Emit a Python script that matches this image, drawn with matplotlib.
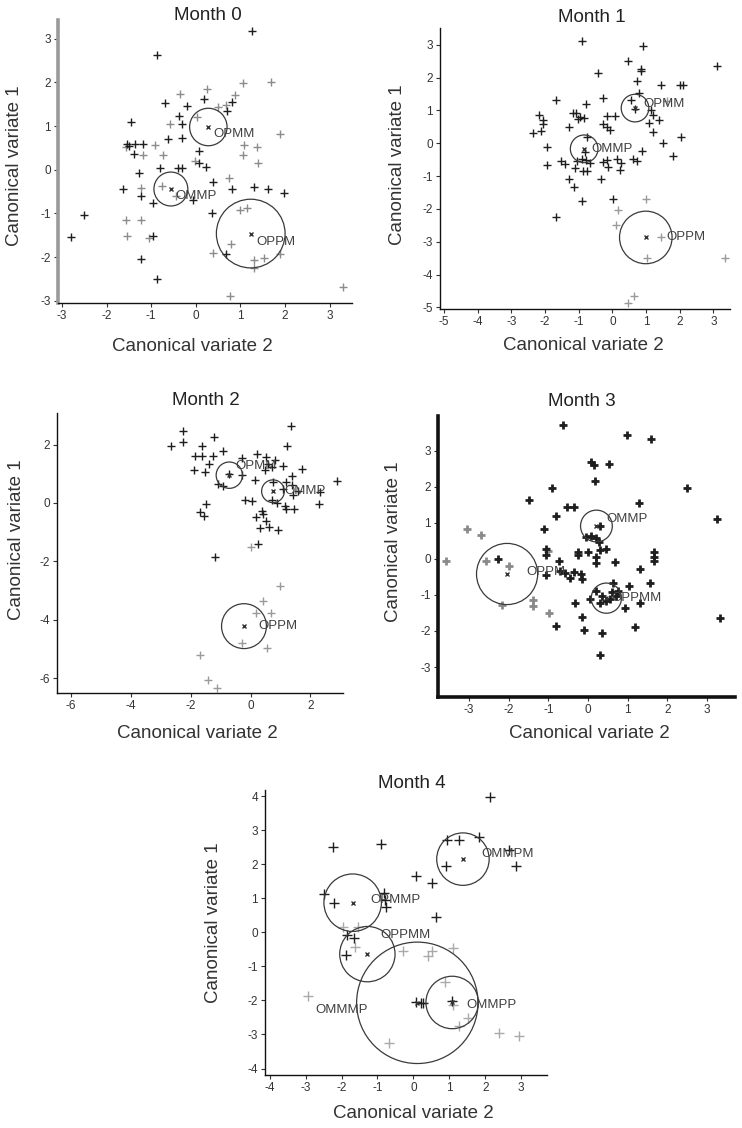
import matplotlib
matplotlib.use("Agg")
import matplotlib.pyplot as plt
from matplotlib.patches import Ellipse

plt.rcParams["font.family"] = ["Liberation Sans", "DejaVu Sans"]
plt.rcParams["axes.unicode_minus"] = False

# ---- data (canonical variate 2, canonical variate 1) ----
m0_dark = [(1.25, 3.17), (-0.87, 2.62), (0.18, 1.63), (0.80, 1.56), (0.69, 1.35), (-0.70, 1.53),
           (-0.19, 1.46), (-0.38, 1.23), (-1.46, 1.10), (-0.30, 1.04), (-0.62, 0.70), (-0.30, 0.72),
           (-1.55, 0.59), (-1.50, 0.55), (-1.36, 0.59), (-1.18, 0.59), (-1.39, 0.36), (0.08, 0.43),
           (0.06, 0.15), (0.23, 0.07), (-0.81, 0.03), (-0.39, 0.03), (-0.32, 0.03), (-1.27, -0.08),
           (0.39, -0.27), (0.82, -0.43), (1.97, -0.53), (1.30, -0.40), (1.62, -0.43), (-1.63, -0.45),
           (-1.24, -0.60), (-0.96, -0.75), (-0.06, -0.70), (0.37, -0.98), (-0.97, -1.52), (0.68, -1.93),
           (-1.24, -2.05), (-0.86, -2.49), (-2.50, -1.04), (-2.79, -1.53)]
m0_gray = [(1.06, 1.99), (1.68, 2.01), (0.25, 1.84), (-0.36, 1.73), (0.87, 1.71), (0.67, 1.48),
           (0.50, 1.43), (0.02, 1.20), (-0.57, 1.04), (1.88, 0.82), (-0.92, 0.57), (1.08, 0.57),
           (1.36, 0.53), (-1.57, 0.53), (-1.18, 0.34), (-0.73, 0.34), (1.05, 0.34), (1.40, 0.15),
           (-0.01, 0.21), (0.75, -0.18), (-1.22, -0.41), (-0.75, -0.37), (-0.45, -0.60), (0.99, -0.93),
           (1.14, -0.87), (-1.57, -1.14), (-1.24, -1.14), (-1.54, -1.52), (-1.05, -1.57), (0.78, -1.70),
           (0.38, -1.91), (1.30, -2.07), (1.52, -2.03), (1.88, -1.93), (1.30, -2.24), (0.76, -2.88),
           (3.30, -2.68)]
m0_groups = ["OPMM", "OMMP", "OPPM"]
m0_cx = [0.28, -0.56, 1.23]
m0_cy = [0.98, -0.44, -1.46]
m0_r = [0.42, 0.38, 0.77]

m1_dark = [(-0.91, 3.10), (0.90, 2.95), (0.45, 2.49), (0.84, 2.26), (0.84, 2.19), (-0.44, 2.15),
           (3.10, 2.34), (0.74, 1.91), (1.43, 1.78), (2.01, 1.78), (2.09, 1.78), (-1.68, 1.32),
           (-0.27, 1.37), (-0.79, 1.20), (0.80, 1.52), (0.54, 1.32), (0.67, 1.05), (1.13, 1.02),
           (1.21, 0.86), (1.39, 0.71), (1.09, 0.61), (1.19, 0.35), (1.49, 0.02), (2.05, 0.18),
           (1.81, -0.39), (0.87, -0.25), (0.62, -0.49), (0.74, -0.53), (0.14, -0.49), (0.24, -0.61),
           (0.21, -0.83), (-0.16, 0.83), (0.08, 0.83), (-0.29, 0.58), (-0.15, 0.50), (-0.07, 0.40),
           (-1.18, 0.92), (-1.08, 0.92), (-0.97, 0.80), (-1.02, 0.74), (-0.85, 0.76), (-1.28, 0.49),
           (-2.17, 0.86), (-2.05, 0.71), (-2.05, 0.59), (-2.12, 0.38), (-2.37, 0.30), (-1.95, -0.12),
           (-1.95, -0.66), (-1.54, -0.54), (-1.41, -0.63), (-0.75, 0.18), (-0.82, -0.27), (-0.78, -0.52),
           (-1.04, -0.55), (-0.91, -0.49), (-0.66, -0.59), (-1.11, -0.76), (-0.86, -0.86), (-0.75, -0.86),
           (-0.27, -0.56), (-0.16, -0.51), (-0.13, -0.73), (-0.35, -1.10), (-1.29, -1.10), (-1.14, -1.34),
           (-0.91, -1.75), (0.02, -1.71), (-1.69, -2.26)]
m1_gray = [(0.99, -1.69), (0.17, -2.03), (0.12, -2.49), (1.43, -2.85), (1.02, -3.51), (3.34, -3.49),
           (0.65, -4.65), (0.45, -4.88), (1.63, 1.30)]
m1_groups = ["OPMM", "OMMP", "OPPM"]
m1_cx = [0.67, -0.84, 0.99]
m1_cy = [1.07, -0.17, -2.87]
m1_r = [0.41, 0.41, 0.78]

m2_dark = [(-2.27, 2.45), (-2.67, 1.96), (-2.27, 2.08), (-1.63, 1.96), (-1.22, 2.26), (-1.86, 1.62),
           (-1.63, 1.62), (-1.25, 1.62), (-0.91, 1.77), (-1.38, 1.35), (-1.89, 1.12), (-1.52, 1.05),
           (-1.08, 0.66), (-0.91, 0.59), (-0.71, 1.00), (-0.30, 1.54), (0.20, 1.68), (0.53, 1.59),
           (0.81, 1.48), (1.07, 1.25), (1.22, 1.96), (1.34, 2.65), (1.73, 1.16), (2.89, 0.74),
           (-0.27, 0.94), (0.59, 1.35), (0.73, 1.23), (0.14, 0.80), (0.48, 1.12), (1.18, 0.71),
           (1.10, 0.48), (1.40, 0.91), (1.37, 0.62), (0.76, 0.70), (0.73, 0.10), (1.59, 0.40),
           (1.41, 0.28), (2.31, 0.36), (2.29, -0.02), (0.87, 0.00), (1.14, -0.10), (1.20, -0.20),
           (1.44, -0.20), (-0.19, 0.10), (0.04, 0.05), (0.37, -0.26), (0.40, -0.37), (0.18, -0.48),
           (0.51, -0.63), (0.62, -0.82), (0.31, -0.86), (0.92, -0.94), (-1.49, -0.02), (-1.69, -0.32),
           (-1.56, -0.46), (0.26, -1.39), (-1.18, -1.85)]
m2_gray = [(0.00, -1.51), (0.98, -2.85), (0.42, -3.37), (0.18, -3.77), (0.67, -3.77), (-0.28, -4.79),
           (0.56, -4.97), (-1.69, -5.22), (-1.41, -6.07), (-1.13, -6.34)]
m2_groups = ["OPMM", "OMMP", "OPPM"]
m2_cx = [-0.71, 0.75, -0.22]
m2_cy = [0.95, 0.40, -4.22]
m2_r = [0.44, 0.38, 0.75]

m3_dark = [(-0.63, 3.71), (0.97, 3.42), (1.58, 3.33), (0.08, 2.69), (0.16, 2.60), (0.53, 2.62),
           (0.18, 2.17), (-0.90, 1.96), (2.49, 1.96), (-1.50, 1.62), (1.28, 1.54), (-0.54, 1.43),
           (-0.35, 1.43), (-0.82, 1.20), (3.25, 1.10), (-1.12, 0.82), (0.29, 0.91), (-0.06, 0.60),
           (0.08, 0.64), (0.19, 0.57), (0.28, 0.48), (-1.05, 0.27), (-1.05, 0.11), (-0.25, 0.20),
           (-0.25, 0.11), (0.00, 0.20), (0.19, 0.06), (0.29, 0.24), (0.46, 0.27), (-0.73, -0.07),
           (0.21, -0.12), (0.69, -0.10), (1.65, 0.20), (1.65, 0.06), (1.65, -0.05), (-2.27, 0.00),
           (-1.05, -0.44), (-0.71, -0.33), (-0.58, -0.38), (-0.36, -0.36), (-0.19, -0.42), (-0.46, -0.54),
           (-0.15, -0.56), (1.32, -0.29), (1.57, -0.67), (0.63, -0.67), (1.04, -0.75), (0.04, -1.12),
           (0.21, -0.90), (0.34, -1.04), (0.30, -1.23), (0.45, -1.18), (0.55, -1.12), (0.71, -1.04),
           (0.92, -1.37), (1.30, -1.23), (0.60, -0.93), (0.75, -0.88), (-0.32, -1.23), (-0.15, -1.62),
           (-0.10, -1.97), (0.34, -2.06), (0.30, -2.66), (1.18, -1.89), (-0.80, -1.86), (3.32, -1.63)]
m3_gray = [(-3.06, 0.82), (-2.70, 0.66), (-3.58, -0.07), (-2.57, -0.07), (-1.99, -0.21), (-1.40, -1.13),
           (-1.40, -1.31), (-2.16, -1.28), (-0.98, -1.50), (-1.00, 0.22)]
m3_groups = ["OMMP", "OPPM", "OPPMM"]
m3_cx = [0.21, -2.04, 0.46]
m3_cy = [0.91, -0.42, -1.09]
m3_r = [0.40, 0.77, 0.38]

m4_dark = [(2.12, 3.97), (-2.25, 2.50), (-0.90, 2.59), (0.95, 2.71), (1.28, 2.71), (1.84, 2.81),
           (0.92, 1.96), (2.86, 1.96), (2.65, 2.42), (0.07, 1.65), (0.51, 1.45), (-2.48, 1.14),
           (-2.21, 0.87), (-0.81, 1.16), (-0.76, 0.73), (-0.80, 0.95), (0.63, 0.44), (-1.86, -0.08),
           (-1.65, -0.18), (-1.87, -0.67), (0.07, -2.04), (0.20, -2.07), (0.28, -2.07), (1.07, -2.01)]
m4_gray = [(-1.97, 0.16), (-1.53, 0.16), (-1.62, -0.44), (-0.30, -0.54), (0.51, -0.54), (0.42, -0.70),
           (1.11, -0.47), (0.88, -1.45), (1.10, -2.14), (1.53, -2.53), (1.28, -2.75), (-2.92, -1.87),
           (-0.67, -3.26), (2.37, -2.97), (2.95, -3.05)]
m4_groups = ["OMMPM", "OPMMP", "OPPMM", "OMMMP", "OMMPP"]
m4_cx = [1.38, -1.69, -1.28, 0.11, 1.08]
m4_cy = [2.15, 0.87, -0.64, -2.07, -2.06]
m4_r = [0.73, 0.80, 0.77, 1.69, 0.73]

titles = ["Month 0", "Month 1", "Month 2", "Month 3", "Month 4"]

# ---- layout (pixels of the 742 x 1128 picture) ----
W, H = 742, 1128
fig = plt.figure(figsize=(W / 100, H / 100), dpi=100)

panels = [
    dict(dark=m0_dark, gray=m0_gray, groups=m0_groups, cx=m0_cx, cy=m0_cy, r=m0_r,
         box=(58, 20, 352, 303), xlim=(-3.09, 3.5), ylim=(-3.05, 3.43),
         xticks=range(-3, 4), yticks=range(-3, 4),
         title_xy=(208, 15), xlab_xy=(192, 346), ylab_xy=(15, 166),
         offsets=[(5, -7), (5, -7), (6, -8)], gray_c="#8c8c8c", left_spine=("#9a9a9a", 2.6),
         spine_w=1.0, ms=5.5, mew=1.0),
    dict(dark=m1_dark, gray=m1_gray, groups=m1_groups, cx=m1_cx, cy=m1_cy, r=m1_r,
         box=(440, 28, 730, 309), xlim=(-5.12, 3.49), ylim=(-5.05, 3.51),
         xticks=range(-5, 4), yticks=range(-5, 4),
         title_xy=(592, 17), xlab_xy=(583, 345), ylab_xy=(398, 165),
         offsets=[(8, 4), (7, 0), (21, 0)], gray_c="#9a9a9a", left_spine=None,
         spine_w=1.0, ms=5.5, mew=1.0),
    dict(dark=m2_dark, gray=m2_gray, groups=m2_groups, cx=m2_cx, cy=m2_cy, r=m2_r,
         box=(57, 413, 343, 693), xlim=(-6.47, 3.09), ylim=(-6.51, 3.08),
         xticks=range(-6, 3, 2), yticks=range(-6, 3, 2),
         title_xy=(206, 400), xlab_xy=(197, 733), ylab_xy=(17, 540),
         offsets=[(6, 9), (11, 0), (14, 0)], gray_c="#9a9a9a", left_spine=None,
         spine_w=1.0, ms=5.5, mew=1.0),
    dict(dark=m3_dark, gray=m3_gray, groups=m3_groups, cx=m3_cx, cy=m3_cy, r=m3_r,
         box=(438, 416, 735, 697), xlim=(-3.78, 3.70), ylim=(-3.83, 3.96),
         xticks=range(-3, 4), yticks=range(-3, 4),
         title_xy=(582, 402), xlab_xy=(589, 733), ylab_xy=(393, 542),
         offsets=[(10, 7), (19, 2), (5, 0)], gray_c="#8a8a8a", left_spine=None,
         spine_w=2.6, ms=6, mew=2.0),
    dict(dark=m4_dark, gray=m4_gray, groups=m4_groups, cx=m4_cx, cy=m4_cy, r=m4_r,
         box=(265, 790, 547, 1075), xlim=(-4.13, 3.72), ylim=(-4.19, 4.18),
         xticks=range(-4, 4), yticks=range(-4, 5),
         title_xy=(412, 783), xlab_xy=(413, 1113), ylab_xy=(213, 923),
         offsets=[(18, 5), (18, 3), (13, 19), (-102, -7), (14, -3)], gray_c="#aaaaaa",
         left_spine=None, spine_w=1.0, ms=6.5, mew=1.0),
]

for p, title in zip(panels, titles):
    left, top, right, bottom = p["box"]
    ax = fig.add_axes([left / W, 1 - bottom / H, (right - left) / W, (bottom - top) / H])
    ax.set_xlim(*p["xlim"])
    ax.set_ylim(*p["ylim"])

    gx = [pt[0] for pt in p["gray"]]
    gy = [pt[1] for pt in p["gray"]]
    dx = [pt[0] for pt in p["dark"]]
    dy = [pt[1] for pt in p["dark"]]
    ax.plot(gx, gy, "+", color=p["gray_c"], ms=p["ms"], mew=p["mew"], zorder=2)
    ax.plot(dx, dy, "+", color="#1e1e1e", ms=p["ms"], mew=p["mew"], zorder=3)

    # circles drawn round in pixel space
    kx = (right - left) / (p["xlim"][1] - p["xlim"][0])
    ky = (bottom - top) / (p["ylim"][1] - p["ylim"][0])
    for name, cx, cy, r, off in zip(p["groups"], p["cx"], p["cy"], p["r"], p["offsets"]):
        ax.add_patch(Ellipse((cx, cy), 2 * r, 2 * r * kx / ky, fill=False,
                             edgecolor="#3a3a3a", lw=0.9, zorder=4))
        ax.plot(cx, cy, "x", color="#333333", ms=3.5, mew=1.0, zorder=5)
        ax.annotate(name, (cx, cy), xytext=off, textcoords="offset pixels",
                    ha="left", va="center", fontsize=9.5, color="#404040", zorder=6)

    for s in ["top", "right"]:
        ax.spines[s].set_visible(False)
    for s in ["left", "bottom"]:
        ax.spines[s].set_linewidth(p["spine_w"])
        ax.spines[s].set_color("#111111")
    if p["left_spine"]:
        ax.spines["left"].set_color(p["left_spine"][0])
        ax.spines["left"].set_linewidth(p["left_spine"][1])
    ax.set_xticks(list(p["xticks"]))
    ax.set_yticks(list(p["yticks"]))
    ax.tick_params(direction="out", length=3, width=0.8, colors="#333333",
                   labelsize=8.5, pad=2)
    ax.patch.set_alpha(0)

    fig.text(p["title_xy"][0] / W, 1 - p["title_xy"][1] / H, title,
             ha="center", va="center", fontsize=13.5, color="#222222")
    fig.text(p["xlab_xy"][0] / W, 1 - p["xlab_xy"][1] / H, "Canonical variate 2",
             ha="center", va="center", fontsize=13.5, color="#333333")
    fig.text(p["ylab_xy"][0] / W, 1 - p["ylab_xy"][1] / H, "Canonical variate 1",
             ha="center", va="center", rotation=90, fontsize=13.5, color="#333333")

fig.savefig("out.png", dpi=100)
